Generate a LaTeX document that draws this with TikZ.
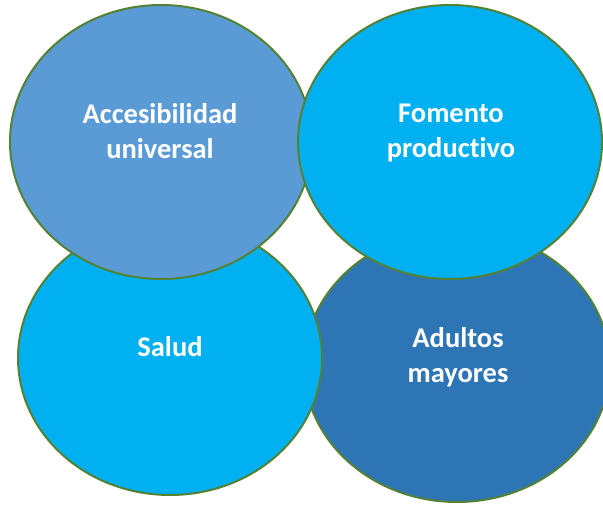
\documentclass[tikz,border=0pt]{standalone}
\usepackage{fontspec}
\setmainfont{Carlito}[RawFeature={-liga}]
\usetikzlibrary{shapes.geometric}

\definecolor{edgegreen}{HTML}{548235}
\definecolor{lightblue}{HTML}{5B9BD5}
\definecolor{skyblue}{HTML}{00B0F0}
\definecolor{deepblue}{HTML}{2E75B6}

\begin{document}
\begin{tikzpicture}[
    x=1pt, y=1pt,
    blob/.style={ellipse, draw=edgegreen, line width=2pt, inner sep=0pt,
                 minimum width=304pt, minimum height=274pt},
    word/.style={text=white, font=\fontsize{28.5}{35}\selectfont\bfseries,
                 align=center, inner sep=0pt},
]

    \useasboundingbox (0,0) rectangle (603,504);

    % back row first, front row on top
    \node[blob, fill=deepblue, minimum width=306pt, minimum height=272pt] (mayores) at (457,138) {};
    \node[blob, fill=skyblue] (salud) at (170,146) {};
    \node[blob, fill=lightblue, minimum width=302pt] (acceso) at (161,362) {};
    \node[blob, fill=skyblue] (fomento) at (450,362) {};

    \node[word] (accesoTxt) at (160,373) {Accesibilidad\\universal};
    \node[word] (fomentoTxt) at (451,371) {Fomento\\productivo};
    \node[word] (saludTxt) at (170,157) {Salud};
    \node[word] (mayoresTxt) at (458,147) {Adultos\\mayores};

\end{tikzpicture}
\end{document}
